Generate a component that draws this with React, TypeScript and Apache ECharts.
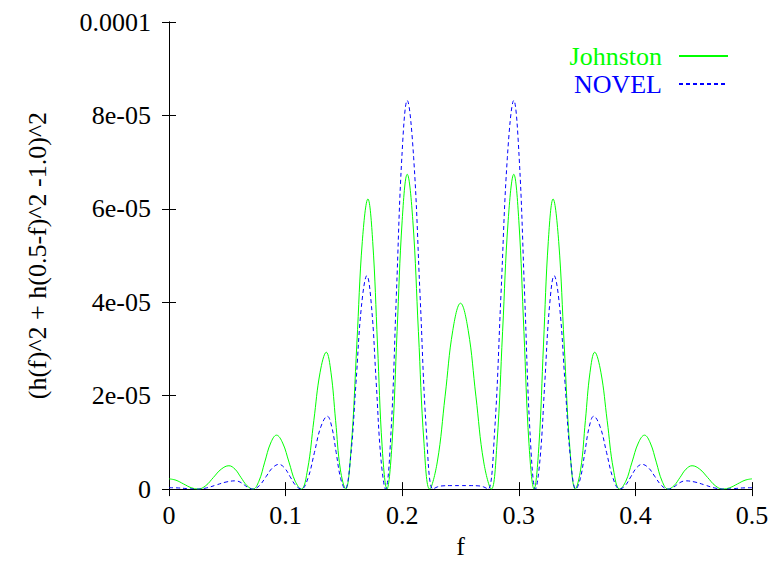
import React, { useEffect, useRef } from "react";
import * as echarts from "echarts";

// f values and readings of (h(f)^2 + h(0.5-f)^2 - 1.0)^2
const johnston: [number, number][] = [
  [0, 0.22e-5], [0.006, 0.19e-5], [0.0125, 0.11e-5], [0.019, 0.03e-5], [0.0249, 0],
  [0.0315, 0.073e-5], [0.0381, 0.25e-5], [0.0448, 0.427e-5], [0.0514, 0.5e-5],
  [0.0566, 0.427e-5], [0.0617, 0.25e-5], [0.0669, 0.073e-5], [0.072, 0],
  [0.0771, 0.169e-5], [0.0821, 0.578e-5], [0.0872, 0.986e-5], [0.0922, 1.155e-5],
  [0.0975, 0.986e-5], [0.1029, 0.578e-5], [0.1082, 0.169e-5], [0.1135, 0],
  [0.1189, 0.428e-5], [0.1242, 1.465e-5], [0.1296, 2.502e-5], [0.1349, 2.93e-5],
  [0.1389, 2.502e-5], [0.1429, 1.465e-5], [0.1469, 0.428e-5], [0.1515, 0],
  [0.1563, 0.907e-5], [0.1611, 3.105e-5], [0.1658, 5.303e-5], [0.1706, 6.21e-5],
  [0.1747, 5.303e-5], [0.1788, 3.105e-5], [0.1828, 0.907e-5], [0.1869, 0],
  [0.1913, 0.984e-5], [0.1956, 3.37e-5], [0.2, 5.756e-5], [0.2043, 6.74e-5],
  [0.2091, 5.756e-5], [0.2139, 3.37e-5], [0.2187, 0.984e-5], [0.2235, 0],
  [0.2301, 0.581e-5], [0.2368, 1.99e-5], [0.2434, 3.399e-5], [0.25, 3.98e-5],
  [0.2566, 3.399e-5], [0.2632, 1.99e-5], [0.2699, 0.581e-5], [0.2765, 0],
  [0.2813, 0.984e-5], [0.2861, 3.37e-5], [0.2909, 5.756e-5], [0.2957, 6.74e-5],
  [0.3, 5.756e-5], [0.3044, 3.37e-5], [0.3087, 0.984e-5], [0.3131, 0],
  [0.3172, 0.907e-5], [0.3212, 3.105e-5], [0.3253, 5.303e-5], [0.3294, 6.21e-5],
  [0.3342, 5.303e-5], [0.3389, 3.105e-5], [0.3437, 0.907e-5], [0.3485, 0],
  [0.3531, 0.428e-5], [0.3571, 1.465e-5], [0.3611, 2.502e-5], [0.3651, 2.93e-5],
  [0.3704, 2.502e-5], [0.3758, 1.465e-5], [0.3811, 0.428e-5], [0.3865, 0],
  [0.3918, 0.169e-5], [0.3971, 0.578e-5], [0.4025, 0.986e-5], [0.4078, 1.155e-5],
  [0.4128, 0.986e-5], [0.4179, 0.578e-5], [0.4229, 0.169e-5], [0.428, 0],
  [0.4331, 0.073e-5], [0.4383, 0.25e-5], [0.4434, 0.427e-5], [0.4486, 0.5e-5],
  [0.4552, 0.427e-5], [0.4619, 0.25e-5], [0.4685, 0.073e-5], [0.4751, 0],
  [0.481, 0.03e-5], [0.4875, 0.11e-5], [0.494, 0.19e-5], [0.5, 0.22e-5],
];

const novel: [number, number][] = [
  [0, 0.03e-5], [0.008, 0.025e-5], [0.016, 0.01e-5], [0.024, 0],
  [0.0323, 0.026e-5], [0.0406, 0.089e-5], [0.0489, 0.151e-5], [0.0572, 0.177e-5],
  [0.0609, 0.151e-5], [0.0646, 0.089e-5], [0.0683, 0.026e-5], [0.072, 0],
  [0.0776, 0.077e-5], [0.0832, 0.265e-5], [0.0887, 0.453e-5], [0.0943, 0.53e-5],
  [0.0991, 0.453e-5], [0.1039, 0.265e-5], [0.1087, 0.077e-5], [0.1135, 0],
  [0.1191, 0.228e-5], [0.1247, 0.78e-5], [0.1302, 1.332e-5], [0.1358, 1.56e-5],
  [0.1396, 1.332e-5], [0.1434, 0.78e-5], [0.1472, 0.228e-5], [0.151, 0],
  [0.1557, 0.667e-5], [0.1604, 2.285e-5], [0.165, 3.903e-5], [0.1697, 4.57e-5],
  [0.1737, 3.903e-5], [0.1777, 2.285e-5], [0.1817, 0.667e-5], [0.1857, 0],
  [0.1904, 1.215e-5], [0.195, 4.16e-5], [0.1997, 7.105e-5], [0.2043, 8.32e-5],
  [0.2098, 7.105e-5], [0.2153, 4.16e-5], [0.2208, 1.215e-5], [0.2263, 0],
  [0.2305, 0.05e-5], [0.235, 0.07e-5], [0.243, 0.075e-5], [0.25, 0.075e-5],
  [0.257, 0.075e-5], [0.265, 0.07e-5], [0.2695, 0.05e-5], [0.2737, 0],
  [0.2792, 1.215e-5], [0.2847, 4.16e-5], [0.2902, 7.105e-5], [0.2957, 8.32e-5],
  [0.3003, 7.105e-5], [0.305, 4.16e-5], [0.3096, 1.215e-5], [0.3143, 0],
  [0.3183, 0.667e-5], [0.3223, 2.285e-5], [0.3263, 3.903e-5], [0.3303, 4.57e-5],
  [0.335, 3.903e-5], [0.3396, 2.285e-5], [0.3443, 0.667e-5], [0.349, 0],
  [0.3528, 0.228e-5], [0.3566, 0.78e-5], [0.3604, 1.332e-5], [0.3642, 1.56e-5],
  [0.3698, 1.332e-5], [0.3753, 0.78e-5], [0.3809, 0.228e-5], [0.3865, 0],
  [0.3913, 0.077e-5], [0.3961, 0.265e-5], [0.4009, 0.453e-5], [0.4057, 0.53e-5],
  [0.4113, 0.453e-5], [0.4168, 0.265e-5], [0.4224, 0.077e-5], [0.428, 0],
  [0.4317, 0.026e-5], [0.4354, 0.089e-5], [0.4391, 0.151e-5], [0.4428, 0.177e-5],
  [0.4511, 0.151e-5], [0.4594, 0.089e-5], [0.4677, 0.026e-5], [0.476, 0],
  [0.484, 0.01e-5], [0.492, 0.025e-5], [0.5, 0.03e-5],
];

const yTickLabels = ["0", "2e-05", "4e-05", "6e-05", "8e-05", "0.0001"];
const xTickLabels = ["0", "0.1", "0.2", "0.3", "0.4", "0.5"];

const FONT = "Liberation Serif";

export default function App() {
  const ref = useRef<HTMLDivElement>(null);
  useEffect(() => {
    document.body.style.margin = "0";
    if (!ref.current) return;
    const chart = echarts.init(ref.current, undefined, { renderer: "svg" });
    const axisLine = { show: true, lineStyle: { color: "#000", width: 1 } };
    const tick = { show: true, inside: true, length: 7, lineStyle: { color: "#000", width: 1 } };
    const legendBase = {
      orient: "vertical",
      right: 53,
      padding: 0,
      align: "right",
      itemWidth: 49,
      itemHeight: 26,
      selectedMode: false,
      itemStyle: { opacity: 0 },
    };
    chart.setOption({
      animation: false,
      backgroundColor: "#fff",
      textStyle: { fontFamily: FONT },
      grid: { left: 169, right: 30, top: 22, bottom: 73, containLabel: false },
      legend: [
        {
          ...legendBase,
          data: ["Johnston"],
          top: 43,
          textStyle: { fontFamily: FONT, fontSize: 26, color: "#00ff00", padding: [0, 12, 0, 0] },
        },
        {
          ...legendBase,
          data: ["NOVEL"],
          top: 71,
          textStyle: { fontFamily: FONT, fontSize: 26, color: "#0000ff", padding: [0, 12, 0, 0] },
        },
      ],
      xAxis: [
        {
          type: "value",
          min: 0,
          max: 0.5,
          interval: 0.1,
          name: "f",
          nameLocation: "middle",
          nameGap: 42,
          nameTextStyle: { fontFamily: FONT, fontSize: 26, color: "#000" },
          axisLine,
          axisTick: tick,
          splitLine: { show: false },
          axisLabel: {
            fontFamily: FONT,
            fontSize: 26,
            color: "#000",
            margin: 13,
            formatter: (_v: number, i: number) => xTickLabels[i] ?? "",
          },
        },
        {
          type: "value",
          position: "top",
          min: 0,
          max: 0.5,
          interval: 0.1,
          axisLine,
          axisTick: tick,
          axisLabel: { show: false },
          splitLine: { show: false },
        },
      ],
      yAxis: [
        {
          type: "value",
          min: 0,
          max: 0.0001,
          interval: 0.00002,
          name: "(h(f)^2 + h(0.5-f)^2 -1.0)^2",
          nameLocation: "middle",
          nameRotate: 90,
          nameGap: 119,
          nameTextStyle: { fontFamily: FONT, fontSize: 26, color: "#000" },
          axisLine,
          axisTick: tick,
          splitLine: { show: false },
          axisLabel: {
            fontFamily: FONT,
            fontSize: 26,
            color: "#000",
            margin: 18,
            formatter: (_v: number, i: number) => yTickLabels[i] ?? "",
          },
        },
        {
          type: "value",
          position: "right",
          min: 0,
          max: 0.0001,
          interval: 0.00002,
          axisLine,
          axisTick: tick,
          axisLabel: { show: false },
          splitLine: { show: false },
        },
      ],
      series: [
        {
          name: "Johnston",
          type: "line",
          data: johnston,
          smooth: 0.4,
          showSymbol: false,
          symbol: "none",
          lineStyle: { color: "#00ff00", width: 1 },
          itemStyle: { color: "#00ff00" },
        },
        {
          name: "NOVEL",
          type: "line",
          data: novel,
          smooth: 0.4,
          showSymbol: false,
          symbol: "none",
          lineStyle: { color: "#0000ff", width: 1, type: [4, 3] },
          itemStyle: { color: "#0000ff" },
        },
      ],
    });
    return () => chart.dispose();
  }, []);
  return <div ref={ref} style={{ width: 782, height: 564 }} />;
}
